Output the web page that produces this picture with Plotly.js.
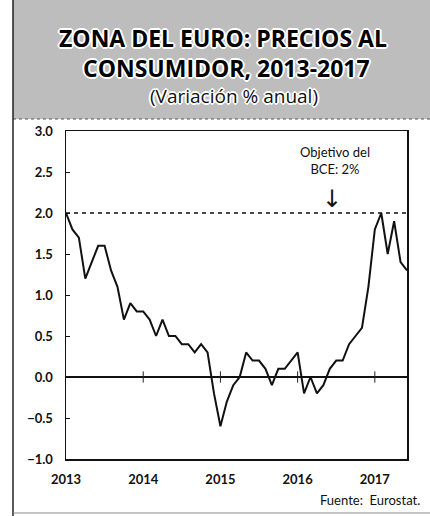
<!DOCTYPE html>
<html>
<head>
<meta charset="utf-8">
<script src="https://cdn.plot.ly/plotly-3.0.1.min.js"></script>
<style>html,body{margin:0;padding:0;background:#fff;}#chart{width:430px;height:516px;}</style>
</head>
<body>
<div id="chart"></div>
<script>
// Euro area HICP, annual % change, monthly Jan 2013 - Jun 2017
const startYear = 2013;
const hicp2013 = [2.0, 1.8, 1.7, 1.2, 1.4, 1.6, 1.6, 1.3, 1.1, 0.7, 0.9, 0.8];
const hicp2014 = [0.8, 0.7, 0.5, 0.7, 0.5, 0.5, 0.4, 0.4, 0.3, 0.4, 0.3, -0.2];
const hicp2015 = [-0.6, -0.3, -0.1, 0.0, 0.3, 0.2, 0.2, 0.1, -0.1, 0.1, 0.1, 0.2];
const hicp2016 = [0.3, -0.2, 0.0, -0.2, -0.1, 0.1, 0.2, 0.2, 0.4, 0.5, 0.6, 1.1];
const hicp2017 = [1.8, 2.0, 1.5, 1.9, 1.4, 1.3];
const tickYears = [2013, 2014, 2015, 2016, 2017];
const tickLabels = ['2013', '2014', '2015', '2016', '2017'];
const ecbTarget = 2.0;

const values = [].concat(hicp2013, hicp2014, hicp2015, hicp2016, hicp2017);
const dates = values.map((v, i) => startYear + i / 12);
const xEnd = dates[dates.length - 1];

const font = 'Lato, "Open Sans", sans-serif';
const tfont = '"Open Sans", Lato, sans-serif';

const traces = [
  {
    x: dates, y: values, type: 'scatter', mode: 'lines',
    line: {color: '#111', width: 2}, hoverinfo: 'x+y', showlegend: false
  },
  {
    x: tickYears.slice(1), y: tickYears.slice(1).map(() => 0), type: 'scatter', mode: 'markers',
    marker: {symbol: 'line-ns-open', size: 8, color: '#222', line: {color: '#222', width: 1}},
    hoverinfo: 'skip', showlegend: false
  }
];

// pixel helpers for paper coords (plot area: x 66..407, y 131..459)
const PL = 66, PR = 407, PT = 131, PB = 459;
const px = v => (v - PL) / (PR - PL);
const py = v => (PB - v) / (PB - PT);

const shadow = 'white 1px 1px 0px, white -1px -1px 0px, white 1px -1px 0px, white -1px 1px 0px, white 2px 0px 0px, white -2px 0px 0px, white 0px 2px 0px, white 0px -2px 0px';

const layout = {
  width: 430, height: 516,
  margin: {l: PL, r: 430 - PR, t: PT, b: 516 - PB},
  paper_bgcolor: '#fff', plot_bgcolor: '#fff',
  showlegend: false,
  xaxis: {
    range: [startYear, xEnd], tickvals: tickYears, ticktext: tickLabels,
    showgrid: false, zeroline: false, showline: true, mirror: true,
    linecolor: '#111', linewidth: 1.5, ticks: '', ticklabelstandoff: 8,
    tickfont: {family: font, size: 13, color: '#111', weight: 'bold'}
  },
  yaxis: {
    range: [-1, 3], dtick: 0.5, tickformat: '.1f',
    showgrid: false, zeroline: true, zerolinecolor: '#111', zerolinewidth: 1.5,
    showline: true, mirror: true, linecolor: '#111', linewidth: 1.5,
    ticks: 'inside', ticklen: 4, tickcolor: '#111', ticklabelstandoff: 9,
    tickfont: {family: font, size: 13, color: '#111', weight: 'bold'}
  },
  shapes: [
    {type: 'rect', xref: 'paper', yref: 'paper', x0: px(13), x1: px(432), y0: py(119), y1: py(-2),
     fillcolor: '#bdbdbd', line: {width: 0}, layer: 'below'},
    {type: 'line', xref: 'paper', yref: 'paper', x0: px(13), x1: px(432), y0: py(119), y1: py(119),
     line: {color: '#555', width: 1, dash: 'dot'}},
    {type: 'line', xref: 'paper', yref: 'paper', x0: px(13), x1: px(13), y0: py(0), y1: py(516),
     line: {color: '#222', width: 1.5}},
    {type: 'line', xref: 'paper', yref: 'paper', x0: px(13), x1: px(430), y0: py(513), y1: py(513),
     line: {color: '#888', width: 1}},
    {type: 'line', xref: 'x', yref: 'y', x0: startYear, x1: xEnd, y0: ecbTarget, y1: ecbTarget,
     line: {color: '#111', width: 1.5, dash: '4px,4px'}}
  ],
  annotations: [
    {xref: 'paper', yref: 'paper', x: px(223), y: py(38), xanchor: 'center', yanchor: 'middle',
     text: 'ZONA DEL EURO: PRECIOS AL', showarrow: false,
     font: {family: tfont, size: 23, color: '#000', weight: 'bold', shadow: shadow}},
    {xref: 'paper', yref: 'paper', x: px(226), y: py(68), xanchor: 'center', yanchor: 'middle',
     text: 'CONSUMIDOR, 2013-2017', showarrow: false,
     font: {family: tfont, size: 23, color: '#000', weight: 'bold', shadow: shadow}},
    {xref: 'paper', yref: 'paper', x: px(234), y: py(96), xanchor: 'center', yanchor: 'middle',
     text: '(Variación % anual)', showarrow: false,
     font: {family: tfont, size: 19, color: '#111', shadow: shadow}},
    {xref: 'x', yref: 'y', x: 2016.49, y: 2.64, xanchor: 'center', yanchor: 'middle',
     text: 'Objetivo del<br>BCE: 2%', showarrow: false,
     font: {family: font, size: 13, color: '#111'}},
    {xref: 'x', yref: 'y', x: 2016.45, y: 2.17, xanchor: 'center', yanchor: 'middle',
     text: '↓', showarrow: false,
     font: {family: 'DejaVu Sans', size: 24, color: '#111'}},
    {xref: 'paper', yref: 'paper', x: px(422), y: py(500), xanchor: 'right', yanchor: 'middle',
     text: 'Fuente:  Eurostat.', showarrow: false,
     font: {family: font, size: 13, color: '#111'}}
  ]
};

Plotly.newPlot('chart', traces, layout, {displayModeBar: false, staticPlot: true});
</script>
</body>
</html>
